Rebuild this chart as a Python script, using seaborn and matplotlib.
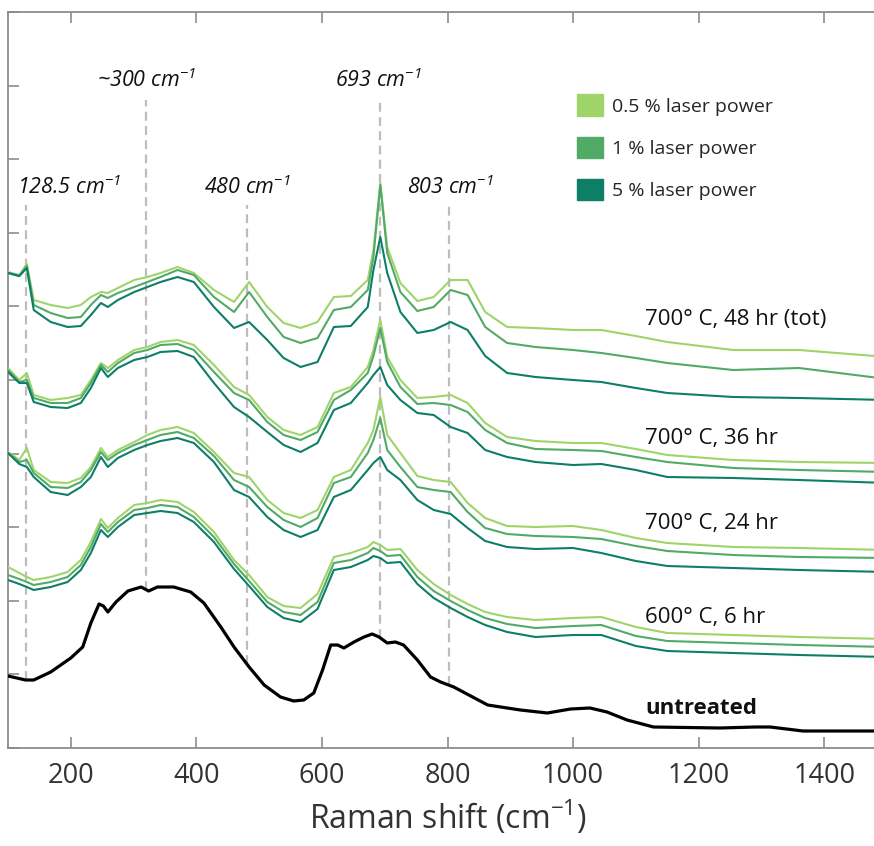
import numpy as np
import pandas as pd
import matplotlib
matplotlib.use("Agg")
import matplotlib.pyplot as plt
from matplotlib.patches import Patch
import seaborn as sns

# Raman shift grid (cm^-1) shared by the heat-treated spectra
shift = [100, 118, 130, 141, 168, 195, 216, 232, 248, 259, 275, 301, 322, 343, 370,
         396, 428, 460, 484, 513, 539, 566, 593, 619, 646, 673, 682, 693, 704, 725,
         752, 778, 805, 832, 860, 895, 940, 1000, 1045, 1100, 1150, 1255, 1360, 1500]

# Offset intensities (a.u.) for each treatment at 0.5 %, 1 % and 5 % laser power
t48_p05 = [476, 473, 484, 448, 443, 440, 443, 451, 456, 455, 460, 468, 471, 475, 481,
           475, 458, 446, 466, 441, 425, 420, 426, 451, 452, 468, 498, 565, 501, 465,
           447, 451, 468, 468, 436, 421, 420, 418, 418, 412, 406, 398, 398, 391]
t48_p1 = [475, 472, 482, 443, 435, 430, 431, 443, 453, 450, 455, 461, 466, 471, 478,
          473, 451, 436, 456, 431, 411, 405, 410, 438, 441, 458, 491, 563, 495, 456,
          437, 441, 458, 453, 421, 405, 401, 398, 395, 390, 385, 378, 380, 369]
t48_p5 = [475, 472, 480, 438, 426, 421, 422, 433, 445, 441, 448, 456, 461, 466, 471,
          466, 441, 420, 426, 408, 390, 381, 386, 421, 422, 441, 478, 511, 475, 436,
          415, 418, 426, 418, 392, 375, 371, 368, 366, 360, 355, 351, 350, 348]

t36_p05 = [380, 368, 375, 353, 348, 350, 353, 368, 385, 380, 388, 398, 401, 406, 408,
           403, 383, 361, 353, 331, 318, 313, 321, 355, 361, 381, 398, 428, 391, 368,
           350, 351, 353, 345, 325, 311, 307, 305, 305, 299, 293, 288, 286, 285]
t36_p1 = [378, 366, 368, 350, 345, 345, 350, 365, 383, 376, 385, 395, 398, 403, 404,
          398, 376, 355, 348, 326, 313, 308, 316, 348, 358, 375, 392, 420, 386, 361,
          344, 345, 343, 336, 318, 305, 299, 298, 297, 291, 286, 280, 278, 276]
t36_p5 = [376, 365, 365, 346, 341, 340, 345, 360, 380, 371, 380, 388, 391, 396, 397,
          391, 365, 341, 331, 316, 303, 296, 305, 338, 345, 365, 373, 381, 363, 348,
          335, 333, 321, 315, 298, 291, 286, 283, 284, 278, 271, 270, 268, 265]

t24_p05 = [296, 288, 300, 278, 266, 265, 270, 281, 300, 291, 298, 306, 313, 318, 321,
           315, 296, 275, 271, 248, 235, 230, 238, 271, 278, 305, 318, 351, 313, 295,
           272, 268, 266, 245, 230, 222, 221, 222, 218, 210, 205, 201, 200, 198]
t24_p1 = [295, 286, 288, 275, 261, 260, 266, 278, 296, 288, 295, 303, 308, 313, 316,
          310, 292, 268, 261, 241, 228, 221, 230, 265, 271, 295, 308, 330, 298, 281,
          261, 258, 256, 236, 220, 214, 212, 211, 209, 202, 197, 193, 191, 190]
t24_p5 = [295, 284, 281, 271, 256, 253, 261, 271, 291, 281, 290, 298, 303, 307, 310,
          305, 286, 258, 251, 231, 218, 211, 218, 251, 258, 278, 285, 291, 278, 268,
          248, 238, 234, 220, 207, 201, 199, 200, 195, 187, 182, 180, 178, 176]

t6_p05 = [181, 175, 171, 168, 171, 176, 188, 206, 229, 220, 230, 243, 245, 248, 246,
          236, 216, 188, 173, 151, 142, 140, 154, 191, 195, 201, 206, 203, 198, 199,
          178, 164, 153, 144, 136, 131, 128, 130, 131, 121, 115, 113, 111, 109]
t6_p1 = [173, 169, 166, 163, 166, 171, 183, 201, 224, 216, 226, 238, 240, 243, 241,
         231, 211, 184, 167, 146, 136, 133, 146, 185, 188, 195, 200, 197, 192, 193,
         171, 157, 147, 138, 130, 124, 120, 122, 123, 112, 107, 105, 103, 101]
t6_p5 = [168, 164, 161, 158, 161, 166, 178, 195, 218, 211, 221, 233, 235, 237, 235,
         226, 206, 179, 162, 141, 130, 126, 139, 178, 181, 188, 192, 190, 185, 186,
         164, 150, 140, 131, 123, 116, 111, 113, 113, 102, 97, 95, 93, 91]

# Untreated reference spectrum
untreated_shift = [100, 128, 141, 168, 200, 219, 232, 245, 252, 259, 272, 291, 312, 324, 338,
                   364, 391, 412, 439, 460, 484, 508, 534, 555, 571, 587, 601, 614, 625, 635,
                   651, 667, 680, 691, 704, 717, 730, 752, 773, 789, 810, 864, 916, 959, 996,
                   1027, 1054, 1086, 1128, 1234, 1290, 1314, 1366, 1500]
untreated = [72, 68, 68, 76, 90, 101, 125, 144, 142, 136, 146, 157, 161, 157, 161,
             161, 156, 145, 121, 101, 81, 63, 51, 47, 48, 55, 78, 103, 103, 100,
             106, 111, 114, 111, 105, 106, 103, 88, 71, 66, 61, 43, 38, 35, 39,
             40, 36, 28, 21, 20, 21, 21, 17, 17]

treatments = ["700° C, 48 hr (tot)", "700° C, 36 hr", "700° C, 24 hr", "600° C, 6 hr"]
treatment_label_y = [428, 310, 224, 131]
powers = ["0.5 % laser power", "1 % laser power", "5 % laser power"]
power_colors = ["#9fd46b", "#52aa67", "#0e7f67"]

# Characteristic band markers
band_pos = [128.5, 320, 480, 693, 803]
band_labels = ["128.5 cm$^{-1}$", "~300 cm$^{-1}$", "480 cm$^{-1}$", "693 cm$^{-1}$", "803 cm$^{-1}$"]
band_label_x = [114, 320, 482, 690, 805]
band_label_ha = ["left", "center", "center", "center", "center"]
band_label_y = [561, 668, 561, 668, 561]
band_line_top = [543, 648, 543, 648, 543]

series = {
    treatments[0]: [t48_p05, t48_p1, t48_p5],
    treatments[1]: [t36_p05, t36_p1, t36_p5],
    treatments[2]: [t24_p05, t24_p1, t24_p5],
    treatments[3]: [t6_p05, t6_p1, t6_p5],
}

rows = []
for treat, curves in series.items():
    for power, vals in zip(powers, curves):
        for xv, yv in zip(shift, vals):
            rows.append({"shift": xv, "intensity": yv, "power": power, "treatment": treat})
df = pd.DataFrame(rows)

sns.set_theme(style="ticks")
plt.rcParams["font.family"] = ["Open Sans", "DejaVu Sans"]
plt.rcParams["mathtext.default"] = "regular"

fig = plt.figure(figsize=(8.74, 8.46), dpi=100)
ax = fig.add_axes([8 / 874, 98 / 846, 879 / 874, 736 / 846])

# band marker lines, drawn under the spectra
for xb, top in zip(band_pos, band_line_top):
    bottom = np.interp(xb, untreated_shift, untreated)
    ax.plot([xb, xb], [bottom, top], color="#bdbdbd", linewidth=1.6,
            dashes=(4, 2.4), zorder=1)

sns.lineplot(data=df, x="shift", y="intensity", hue="power", units="treatment",
             estimator=None, sort=False, palette=dict(zip(powers, power_colors)),
             hue_order=powers, linewidth=1.5, legend=False, ax=ax, zorder=3)
sns.lineplot(x=untreated_shift, y=untreated, color="black", linewidth=2.3,
             ax=ax, zorder=4)

for xl, lab, yl, ha in zip(band_label_x, band_labels, band_label_y, band_label_ha):
    ax.text(xl, yl, lab, style="italic", fontsize=15.5, ha=ha, va="center",
            color="#111111")

for lab, yl in zip(treatments, treatment_label_y):
    ax.text(1115, yl, lab, fontsize=16, ha="left", va="center", color="#111111")
ax.text(1115, 40, "untreated", fontsize=16, fontweight="bold", ha="left",
        va="center", color="#111111")

handles = [Patch(facecolor=c, edgecolor=c) for c in power_colors]
ax.legend(handles, powers, loc="upper left", bbox_to_anchor=(0.647, 0.888),
          frameon=False, fontsize=14, handlelength=1.34, handleheight=1.34,
          handletextpad=0.5, labelspacing=1.05, borderpad=0, borderaxespad=0)

ax.set_xlim(100, 1500)
ax.set_ylim(0, 736)
ax.set_xticks(np.arange(200, 1401, 200))
ax.set_yticks(np.arange(0, 737, 73.6))
ax.set_ylabel("")
ax.set_xlabel("Raman shift (cm$^{-1}$)", fontsize=23, color="#333333", labelpad=6)
ax.tick_params(direction="in", length=8, width=1.2, color="#8c8c8c",
               top=True, right=True, labelleft=False, labelsize=19.5,
               labelcolor="#333333", pad=10)
for sp in ax.spines.values():
    sp.set_color("#8c8c8c")
    sp.set_linewidth(1.3)

fig.savefig("out.png", dpi=100)
